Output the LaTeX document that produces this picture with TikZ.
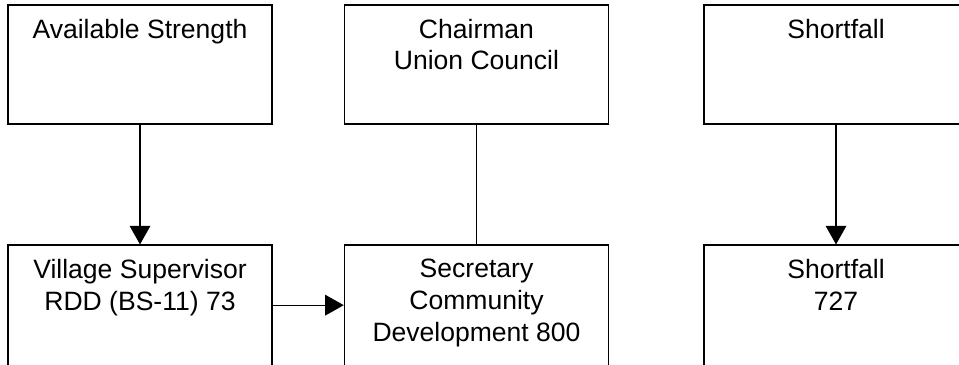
\documentclass[tikz,border=0pt]{standalone}
\usepackage{fontspec}
\setmainfont{Liberation Sans}
\usetikzlibrary{arrows.meta}

\begin{document}
\begin{tikzpicture}[x=0.75pt, y=-0.75pt,
    box/.style={draw, line width=1.1pt, minimum width=198pt, minimum height=89.5pt, inner sep=0pt},
    lowbox/.style={box, minimum height=92pt},
    txt/.style={anchor=north, inner sep=0pt, align=center, font=\fontsize{19.9}{23.8}\selectfont},
    link/.style={line width=1pt},
    arr/.style={line width=1pt, -{Triangle[width=15.5pt, length=14pt]}}]
    \useasboundingbox (0,0) rectangle (959,364);

    % top row
    \node[box] (avail) at (140,64.5) {};
    \node[box] (chair) at (476.5,64.5) {};
    \node[box] (shortA) at (836,64.5) {};
    % bottom row (cut off at the bottom edge)
    \node[lowbox] (village) at (140,306.5) {};
    \node[lowbox] (secy) at (476.5,306.5) {};
    \node[lowbox] (shortB) at (836,306.5) {};

    \node[txt] (availT) at ([yshift=-11pt]avail.north) {Available Strength};
    \node[txt] (chairT) at ([yshift=-11pt]chair.north) {Chairman\\Union Council};
    \node[txt] (shortAT) at ([yshift=-11pt]shortA.north) {Shortfall};
    \node[txt] (villageT) at ([yshift=-11pt]village.north) {Village Supervisor\\RDD (BS-11) 73};
    \node[txt] (secyT) at ([yshift=-11pt]secy.north) {Secretary\\Community\\Development 800};
    \node[txt] (shortBT) at ([yshift=-11pt]shortB.north) {Shortfall\\727};

    \draw[arr] (avail) -- (village);
    \draw[arr] (shortA) -- (shortB);
    \draw[link] (chair) -- (secy);
    \draw[arr] ([yshift=1pt]village.east) -- ([yshift=1pt]secy.west);
\end{tikzpicture}
\end{document}
